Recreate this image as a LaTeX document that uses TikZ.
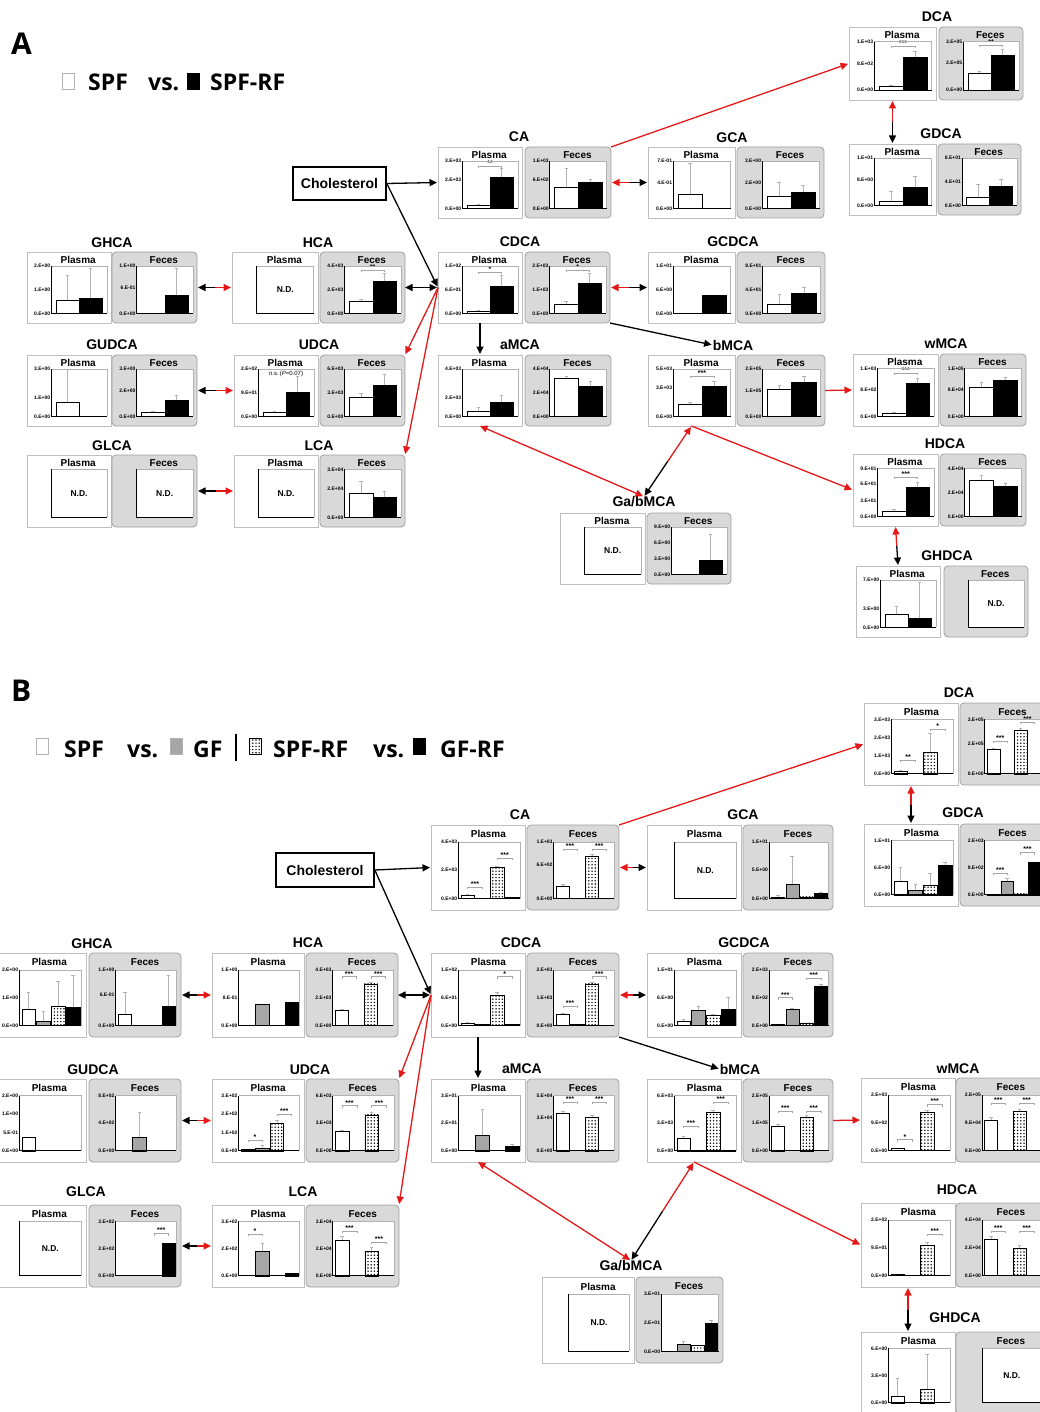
\documentclass[tikz,border=0pt]{standalone}
\usepackage{fontspec}
\setmainfont{Liberation Sans}
\newfontfamily\legfont{Open Sans}
\usetikzlibrary{arrows.meta, positioning, calc, patterns.meta}

\definecolor{arrred}{RGB}{228,24,24}
\definecolor{boxgray}{RGB}{217,217,217}

\tikzset{
  plasbox/.style={draw=gray!50, fill=white, line width=0.8pt, inner sep=0pt, outer sep=0pt},
  fecbox/.style={draw=gray!75, fill=boxgray, line width=0.8pt, rounded corners=4pt, inner sep=0pt, outer sep=0pt},
  pantitle/.style={font=\bfseries\fontsize{10}{10}\selectfont, inner sep=0pt},
  grptitle/.style={font=\bfseries\fontsize{14}{14}\selectfont, inner sep=0pt},
  ticklab/.style={font=\bfseries\fontsize{5}{5}\selectfont, anchor=east, inner sep=1pt},
  sigtxt/.style={font=\bfseries\fontsize{7}{7}\selectfont, anchor=south, inner sep=0.3pt},
  ndtxt/.style={font=\bfseries\fontsize{8.5}{8.5}\selectfont},
  sigline/.style={draw=gray!70, line width=0.5pt},
  errbar/.style={draw=gray!60, line width=0.5pt},
  axisgray/.style={draw=gray!60, line width=0.5pt},
  axisblack/.style={draw=black, line width=1pt},
  wb/.style={draw=black, line width=0.4pt, fill=white},
  gb/.style={draw=black, line width=0.4pt, fill=gray!70},
  db/.style={draw=black, line width=0.4pt, pattern={Dots[distance=3.2pt, radius=0.8pt]}},
  kb/.style={draw=black, line width=0.4pt, fill=black},
  cholbox/.style={draw, line width=1.6pt, font=\bfseries\fontsize{14}{14}\selectfont, minimum width=93, minimum height=33, inner sep=0pt},
  legtxt/.style={font=\legfont\bfseries\fontsize{23}{23}\selectfont, anchor=base west, inner sep=0pt},
  legsq/.style={draw=gray!60, line width=0.6pt, minimum width=12, minimum height=16, inner sep=0pt},
  paneltag/.style={font=\legfont\bfseries\fontsize{30}{30}\selectfont, anchor=base west, inner sep=0pt},
  blkarr/.style={draw=black, line width=1.3pt, ->, shorten >=1pt},
  redarr/.style={draw=arrred, line width=1.3pt, ->, shorten >=1pt},
}

% one bar: left, height, error top, style
\newcommand{\bbar}[4]{%
  \draw[errbar] ({#1+\barw/2},{#2}) -- ({#1+\barw/2},{#3});
  \draw[errbar] ({#1+\barw/2-.03},{#3}) -- ({#1+\barw/2+.03},{#3});
  \draw[#4] ({#1},0) rectangle ({#1+\barw},{#2});}
\newcommand{\yl}[2]{\node[ticklab] at (0,{#1}) {#2};}
\newcommand{\sig}[4]{%
  \draw[sigline] ({#1},{#3-.04}) -- ({#1},{#3}) -- ({#2},{#3}) -- ({#2},{#3-.04});
  \node[sigtxt] at ({(#1+#2)/2},{#3}) {#4};}
\newcommand{\nodata}{\node[ndtxt] at (.5,.5) {N.D.};}

% panel: name, x, y, w, h, box style, title, plot
\newcommand{\bapanel}[8]{%
  \node[#6, minimum width=#4, minimum height=#5, anchor=north west] (#1) at (#2,#3) {};
  \pgfmathsetmacro\plx{#2+0.29*#4}
  \pgfmathsetmacro\ply{#3+0.865*#5}
  \pgfmathsetmacro\plw{0.66*#4}
  \pgfmathsetmacro\plh{0.665*#5}
  \node[pantitle] at ({#2+0.61*#4},{#3+0.11*#5}) {#7};
  \begin{scope}[shift={(\plx,\ply)}, x=\plw pt, y=\plh pt]
    \fill[white] (0,0) rectangle (1,1);
    #8
    \draw[axisgray] (0,1) -- (1,1) -- (1,0);
    \draw[axisblack] (0,1) -- (0,0) -- (1,0);
  \end{scope}}

\newcommand{\mixarr}[2]{%
  \draw[redarr] ($(#1)!.5!(#2)$) -- (#1);
  \draw[blkarr] ($(#1)!.5!(#2)$) -- (#2);}

\begin{document}
\begin{tikzpicture}[x=1pt, y=-1pt, >={Triangle[length=7.5pt,width=7pt]}]
\useasboundingbox (0,0) rectangle (1040,1412);
\clip (0,0) rectangle (1040,1412);

%% ---------------- A ----------------
\def\barw{.42}
\node[paneltag] (A-tag) at (11,55) {A};
\node[legsq, fill=white] (A-k1) at (68,81) {};
\node[legtxt] (A-t1) at (88,91) {SPF};
\node[legtxt] (A-t2) at (148,91) {vs.};
\node[legsq, fill=black, draw=black] (A-k2) at (193.5,81) {};
\node[legtxt] (A-t3) at (210,91) {SPF-RF};

\node[cholbox] (A-chol) at (339.5,183.5) {Cholesterol};

\node[grptitle] (A-DCA-t) at (937,17) {DCA};
\bapanel{A-DCA-p}{849}{27}{87}{73}{plasbox}{Plasma}{\yl{1}{1.E+03}\yl{.55}{8.E+02}\yl{0}{0.E+00}\bbar{.08}{.08}{.1}{wb}\bbar{.5}{.68}{.8}{kb}\sig{.29}{.71}{.9}{***}}
\bapanel{A-DCA-f}{939}{27}{84}{73}{fecbox}{Feces}{\yl{1}{3.E+05}\yl{.57}{2.E+05}\yl{0}{0.E+00}\bbar{.08}{.35}{.38}{wb}\bbar{.5}{.72}{.84}{kb}\sig{.29}{.71}{.92}{**}}

\node[grptitle] (A-GDCA-t) at (941,134) {GDCA};
\bapanel{A-GDCA-p}{849}{144}{87}{71}{plasbox}{Plasma}{\yl{1}{1.E+01}\yl{.54}{8.E+00}\yl{0}{0.E+00}\bbar{.08}{.08}{.3}{wb}\bbar{.5}{.38}{.62}{kb}}
\bapanel{A-GDCA-f}{938}{144}{83}{71}{fecbox}{Feces}{\yl{1}{8.E+01}\yl{.5}{4.E+01}\yl{0}{0.E+00}\bbar{.08}{.18}{.45}{wb}\bbar{.5}{.4}{.55}{kb}}

\node[grptitle] (A-CA-t) at (519,137) {CA};
\bapanel{A-CA-p}{438}{147}{84}{71}{plasbox}{Plasma}{\yl{1}{3.E+03}\yl{.6}{2.E+03}\yl{0}{0.E+00}\bbar{.08}{.06}{.08}{wb}\bbar{.5}{.66}{.85}{kb}\sig{.29}{.71}{.9}{**}}
\bapanel{A-CA-f}{525}{147}{86}{71}{fecbox}{Feces}{\yl{1}{1.E+03}\yl{.6}{6.E+02}\yl{0}{0.E+00}\bbar{.08}{.44}{.86}{wb}\bbar{.5}{.55}{.62}{kb}}

\node[grptitle] (A-GCA-t) at (732,138) {GCA};
\bapanel{A-GCA-p}{648}{147}{87}{71}{plasbox}{Plasma}{\yl{1}{7.E-01}\yl{.55}{4.E-01}\yl{0}{0.E+00}\bbar{.08}{.3}{.95}{wb}}
\bapanel{A-GCA-f}{737}{147}{87}{71}{fecbox}{Feces}{\yl{1}{3.E+00}\yl{.55}{2.E+00}\yl{0}{0.E+00}\bbar{.08}{.25}{.55}{wb}\bbar{.5}{.35}{.5}{kb}}

\node[grptitle] (A-GHCA-t) at (112,243) {GHCA};
\bapanel{A-GHCA-p}{27}{252}{84}{71}{plasbox}{Plasma}{\yl{1}{2.E+00}\yl{.5}{1.E+00}\yl{0}{0.E+00}\bbar{.08}{.28}{.8}{wb}\bbar{.5}{.33}{.95}{kb}}
\bapanel{A-GHCA-f}{112}{252}{85}{71}{fecbox}{Feces}{\yl{1}{1.E+00}\yl{.55}{6.E-01}\yl{0}{0.E+00}\bbar{.5}{.38}{.95}{kb}}

\node[grptitle] (A-HCA-t) at (318,243) {HCA};
\bapanel{A-HCA-p}{232}{252}{86}{71}{plasbox}{Plasma}{\nodata}
\bapanel{A-HCA-f}{320}{252}{85}{71}{fecbox}{Feces}{\yl{1}{4.E+03}\yl{.5}{2.E+03}\yl{0}{0.E+00}\bbar{.08}{.25}{.3}{wb}\bbar{.5}{.68}{.85}{kb}\sig{.29}{.71}{.92}{**}}

\node[grptitle] (A-CDCA-t) at (520,242) {CDCA};
\bapanel{A-CDCA-p}{438}{252}{84}{71}{plasbox}{Plasma}{\yl{1}{1.E+02}\yl{.5}{6.E+01}\yl{0}{0.E+00}\bbar{.08}{.05}{.07}{wb}\bbar{.5}{.57}{.8}{kb}\sig{.29}{.71}{.88}{*}}
\bapanel{A-CDCA-f}{525}{252}{85}{71}{fecbox}{Feces}{\yl{1}{2.E+03}\yl{.5}{1.E+03}\yl{0}{0.E+00}\bbar{.08}{.2}{.25}{wb}\bbar{.5}{.65}{.85}{kb}\sig{.29}{.71}{.92}{*}}

\node[grptitle] (A-GCDCA-t) at (733,242) {GCDCA};
\bapanel{A-GCDCA-p}{648}{252}{87}{71}{plasbox}{Plasma}{\yl{1}{1.E+01}\yl{.5}{6.E+00}\yl{0}{0.E+00}\bbar{.5}{.38}{.38}{kb}}
\bapanel{A-GCDCA-f}{737}{252}{88}{71}{fecbox}{Feces}{\yl{1}{8.E+01}\yl{.5}{4.E+01}\yl{0}{0.E+00}\bbar{.08}{.2}{.4}{wb}\bbar{.5}{.42}{.55}{kb}}

\node[grptitle] (A-GUDCA-t) at (112,345) {GUDCA};
\bapanel{A-GUDCA-p}{27}{355}{84}{71}{plasbox}{Plasma}{\yl{1}{3.E+00}\yl{.4}{1.E+00}\yl{0}{0.E+00}\bbar{.08}{.3}{1}{wb}}
\bapanel{A-GUDCA-f}{112}{355}{85}{71}{fecbox}{Feces}{\yl{1}{3.E+00}\yl{.55}{2.E+00}\yl{0}{0.E+00}\bbar{.08}{.08}{.1}{wb}\bbar{.5}{.35}{.45}{kb}}

\node[grptitle] (A-UDCA-t) at (319,345) {UDCA};
\bapanel{A-UDCA-p}{234}{355}{84}{71}{plasbox}{Plasma}{\yl{1}{2.E+02}\yl{.5}{9.E+01}\yl{0}{0.E+00}\bbar{.08}{.08}{.1}{wb}\bbar{.5}{.52}{.85}{kb}\node[sigtxt, font=\fontsize{6}{6}\selectfont] at (.5,.84) {n.s.\,(\textit{P}=0.07)};}
\bapanel{A-UDCA-f}{320}{355}{85}{71}{fecbox}{Feces}{\yl{1}{6.E+03}\yl{.5}{3.E+03}\yl{0}{0.E+00}\bbar{.08}{.4}{.5}{wb}\bbar{.5}{.67}{.9}{kb}}

\node[grptitle] (A-aMCA-t) at (520,345) {aMCA};
\bapanel{A-aMCA-p}{438}{355}{84}{71}{plasbox}{Plasma}{\yl{1}{4.E+03}\yl{.4}{2.E+03}\yl{0}{0.E+00}\bbar{.08}{.1}{.2}{wb}\bbar{.5}{.3}{.45}{kb}}
\bapanel{A-aMCA-f}{525}{355}{86}{71}{fecbox}{Feces}{\yl{1}{4.E+04}\yl{.5}{2.E+04}\yl{0}{0.E+00}\bbar{.08}{.8}{.85}{wb}\bbar{.5}{.65}{.75}{kb}}

\node[grptitle] (A-bMCA-t) at (733,345) {bMCA};
\bapanel{A-bMCA-p}{648}{355}{87}{71}{plasbox}{Plasma}{\yl{1}{5.E+03}\yl{.6}{3.E+03}\yl{0}{0.E+00}\bbar{.08}{.25}{.3}{wb}\bbar{.5}{.65}{.75}{kb}\sig{.29}{.71}{.85}{***}}
\bapanel{A-bMCA-f}{737}{355}{88}{71}{fecbox}{Feces}{\yl{1}{2.E+05}\yl{.55}{1.E+05}\yl{0}{0.E+00}\bbar{.08}{.58}{.65}{wb}\bbar{.5}{.72}{.85}{kb}}

\node[grptitle] (A-wMCA-t) at (946,344) {wMCA};
\bapanel{A-wMCA-p}{853}{354}{85}{72}{plasbox}{Plasma}{\yl{1}{1.E+03}\yl{.55}{8.E+02}\yl{0}{0.E+00}\bbar{.08}{.06}{.08}{wb}\bbar{.5}{.7}{.8}{kb}\sig{.29}{.71}{.9}{***}}
\bapanel{A-wMCA-f}{940}{354}{86}{72}{fecbox}{Feces}{\yl{1}{1.E+05}\yl{.55}{8.E+04}\yl{0}{0.E+00}\bbar{.08}{.6}{.72}{wb}\bbar{.5}{.75}{.82}{kb}}

\node[grptitle] (A-GLCA-t) at (112,446) {GLCA};
\bapanel{A-GLCA-p}{27}{455}{84}{72}{plasbox}{Plasma}{\nodata}
\bapanel{A-GLCA-f}{112}{455}{85}{72}{fecbox}{Feces}{\nodata}

\node[grptitle] (A-LCA-t) at (319,446) {LCA};
\bapanel{A-LCA-p}{234}{455}{84}{72}{plasbox}{Plasma}{\nodata}
\bapanel{A-LCA-f}{320}{455}{85}{72}{fecbox}{Feces}{\yl{1}{3.E+04}\yl{.6}{2.E+04}\yl{0}{0.E+00}\bbar{.08}{.5}{.75}{wb}\bbar{.5}{.42}{.55}{kb}}

\node[grptitle] (A-HDCA-t) at (945,444) {HDCA};
\bapanel{A-HDCA-p}{853}{454}{85}{72}{plasbox}{Plasma}{\yl{1}{9.E+01}\yl{.67}{6.E+01}\yl{.33}{3.E+01}\yl{0}{0.E+00}\bbar{.08}{.1}{.15}{wb}\bbar{.5}{.6}{.72}{kb}\sig{.29}{.71}{.82}{***}}
\bapanel{A-HDCA-f}{940}{454}{86}{72}{fecbox}{Feces}{\yl{1}{4.E+04}\yl{.5}{2.E+04}\yl{0}{0.E+00}\bbar{.08}{.75}{.85}{wb}\bbar{.5}{.62}{.7}{kb}}

\node[grptitle] (A-GbMCA-t) at (644,502) {Ga/bMCA};
\bapanel{A-GbMCA-p}{560}{513}{85}{71}{plasbox}{Plasma}{\nodata}
\bapanel{A-GbMCA-f}{647}{513}{84}{71}{fecbox}{Feces}{\yl{1}{9.E+00}\yl{.67}{6.E+00}\yl{.33}{3.E+00}\yl{0}{0.E+00}\bbar{.5}{.3}{.85}{kb}}

\node[grptitle] (A-GHDCA-t) at (947,556) {GHDCA};
\bapanel{A-GHDCA-p}{856}{566}{84}{71}{plasbox}{Plasma}{\yl{1}{7.E+00}\yl{.4}{3.E+00}\yl{0}{0.E+00}\bbar{.08}{.28}{.45}{wb}\bbar{.5}{.2}{.95}{kb}}
\bapanel{A-GHDCA-f}{944}{566}{84}{71}{fecbox}{Feces}{\nodata}

% conversions A
\draw[blkarr] (A-chol.east) -- (A-CA-p.west);
\draw[blkarr] (A-chol.east) -- (A-CDCA-p.west);
\draw[redarr] (A-CA-f.north east) -- (A-DCA-p.west);
\mixarr{A-DCA-p.south}{A-GDCA-p.north}
\mixarr{A-CA-f.east}{A-GCA-p.west}
\mixarr{A-HCA-p.west}{A-GHCA-f.east}
\draw[blkarr, <->] (A-HCA-f.east) -- (A-CDCA-p.west);
\mixarr{A-CDCA-f.east}{A-GCDCA-p.west}
\draw[blkarr] (A-CDCA-p.south) -- (A-aMCA-p.north);
\draw[blkarr] (A-CDCA-f.south east) -- (A-bMCA-t.west);
\draw[redarr] (A-CDCA-p.west) -- (A-UDCA-f.north east);
\draw[redarr] (A-CDCA-p.west) -- (A-LCA-f.north east);
\mixarr{A-UDCA-p.west}{A-GUDCA-f.east}
\draw[redarr] (A-bMCA-f.east) -- (A-wMCA-p.west);
\draw[redarr, <->] (A-aMCA-p.south) -- (A-GbMCA-t.north);
\mixarr{A-bMCA-p.south}{A-GbMCA-t.north}
\draw[redarr] (A-bMCA-p.south) -- (A-HDCA-p.west);
\mixarr{A-LCA-p.west}{A-GLCA-f.east}
\mixarr{A-HDCA-p.south}{A-GHDCA-p.north}

%% ---------------- B ----------------
\def\barw{.22}
\node[paneltag] (B-tag) at (11,701) {B};
\node[legsq, fill=white] (B-k1) at (42,746) {};
\node[legtxt] (B-t1) at (64,757) {SPF};
\node[legtxt] (B-t2) at (127,757) {vs.};
\node[legsq, fill=gray!70] (B-k2) at (176,746) {};
\node[legtxt] (B-t3) at (193,757) {GF};
\coordinate (B-bar1) at (236,734);
\coordinate (B-bar2) at (236,761);
\draw[line width=2.6pt] (B-bar1) -- (B-bar2);
\node[legsq, db] (B-k3) at (255,746) {};
\node[legtxt] (B-t4) at (273,757) {SPF-RF};
\node[legtxt] (B-t5) at (373,757) {vs.};
\node[legsq, fill=black, draw=black] (B-k4) at (419,746) {};
\node[legtxt] (B-t6) at (440,757) {GF-RF};

\node[cholbox, minimum width=98, minimum height=34] (B-chol) at (325,870) {Cholesterol};

\node[grptitle] (B-DCA-t) at (959,693) {DCA};
\bapanel{B-DCA-p}{864}{703}{94}{82}{plasbox}{Plasma}{\yl{1}{3.E+03}\yl{.67}{2.E+03}\yl{.33}{1.E+03}\yl{0}{0.E+00}\bbar{.04}{.05}{.07}{wb}\bbar{.52}{.4}{.75}{db}\sig{.15}{.39}{.25}{**}\sig{.63}{.87}{.82}{*}}
\bapanel{B-DCA-f}{960}{703}{86}{82}{fecbox}{Feces}{\yl{1}{3.E+05}\yl{.55}{2.E+05}\yl{0}{0.E+00}\bbar{.04}{.45}{.48}{wb}\bbar{.52}{.8}{.83}{db}\sig{.15}{.39}{.6}{***}\sig{.63}{.87}{.95}{***}}

\node[grptitle] (B-GDCA-t) at (963,813) {GDCA};
\bapanel{B-GDCA-p}{864}{824}{94}{82}{plasbox}{Plasma}{\yl{1}{1.E+01}\yl{.5}{6.E+00}\yl{0}{0.E+00}\bbar{.04}{.25}{.5}{wb}\bbar{.28}{.08}{.2}{gb}\bbar{.52}{.18}{.4}{db}\bbar{.76}{.55}{.6}{kb}}
\bapanel{B-GDCA-f}{960}{824}{86}{82}{fecbox}{Feces}{\yl{1}{2.E+03}\yl{.5}{9.E+02}\yl{0}{0.E+00}\bbar{.04}{.02}{.02}{wb}\bbar{.28}{.25}{.3}{gb}\bbar{.52}{.02}{.02}{db}\bbar{.76}{.6}{.6}{kb}\sig{.15}{.39}{.4}{***}\sig{.63}{.87}{.78}{***}}

\node[grptitle] (B-CA-t) at (520,815) {CA};
\bapanel{B-CA-p}{431}{825}{94}{85}{plasbox}{Plasma}{\yl{1}{4.E+03}\yl{.5}{2.E+03}\yl{0}{0.E+00}\bbar{.04}{.06}{.07}{wb}\bbar{.52}{.55}{.58}{db}\bbar{.76}{.02}{.02}{kb}\sig{.15}{.39}{.2}{***}\sig{.63}{.87}{.72}{***}}
\bapanel{B-CA-f}{527}{825}{92}{85}{fecbox}{Feces}{\yl{1}{1.E+03}\yl{.6}{6.E+02}\yl{0}{0.E+00}\bbar{.04}{.22}{.25}{wb}\bbar{.52}{.75}{.78}{db}\sig{.15}{.39}{.88}{***}\sig{.63}{.87}{.88}{***}}

\node[grptitle] (B-GCA-t) at (743,815) {GCA};
\bapanel{B-GCA-p}{647}{825}{94}{85}{plasbox}{Plasma}{\nodata}
\bapanel{B-GCA-f}{743}{825}{90}{85}{fecbox}{Feces}{\yl{1}{1.E+01}\yl{.5}{5.E+00}\yl{0}{0.E+00}\bbar{.04}{.03}{.05}{wb}\bbar{.28}{.25}{.75}{gb}\bbar{.52}{.03}{.03}{db}\bbar{.76}{.1}{.12}{kb}}

\node[grptitle] (B-GHCA-t) at (92,944) {GHCA};
\bapanel{B-GHCA-p}{-8}{953}{94}{84}{plasbox}{Plasma}{\yl{1}{2.E+00}\yl{.5}{1.E+00}\yl{0}{0.E+00}\bbar{.04}{.3}{.6}{wb}\bbar{.28}{.08}{.25}{gb}\bbar{.52}{.35}{.8}{db}\bbar{.76}{.33}{.9}{kb}}
\bapanel{B-GHCA-f}{89}{953}{92}{84}{fecbox}{Feces}{\yl{1}{1.E+00}\yl{.55}{6.E-01}\yl{0}{0.E+00}\bbar{.04}{.2}{.6}{wb}\bbar{.76}{.35}{.9}{kb}}

\node[grptitle] (B-HCA-t) at (308,943) {HCA};
\bapanel{B-HCA-p}{212}{953}{92}{84}{plasbox}{Plasma}{\yl{1}{1.E+00}\yl{.5}{8.E-01}\yl{0}{0.E+00}\bbar{.28}{.38}{.38}{gb}\bbar{.76}{.42}{.42}{kb}}
\bapanel{B-HCA-f}{306}{953}{92}{84}{fecbox}{Feces}{\yl{1}{4.E+03}\yl{.5}{2.E+03}\yl{0}{0.E+00}\bbar{.04}{.28}{.3}{wb}\bbar{.52}{.75}{.78}{db}\sig{.15}{.39}{.88}{***}\sig{.63}{.87}{.88}{***}}

\node[grptitle] (B-CDCA-t) at (521,943) {CDCA};
\bapanel{B-CDCA-p}{431}{953}{94}{84}{plasbox}{Plasma}{\yl{1}{1.E+02}\yl{.5}{6.E+01}\yl{0}{0.E+00}\bbar{.04}{.05}{.06}{wb}\bbar{.28}{.02}{.02}{gb}\bbar{.52}{.55}{.6}{db}\bbar{.76}{.02}{.02}{kb}\sig{.63}{.87}{.88}{*}}
\bapanel{B-CDCA-f}{527}{953}{92}{84}{fecbox}{Feces}{\yl{1}{2.E+03}\yl{.5}{1.E+03}\yl{0}{0.E+00}\bbar{.04}{.2}{.22}{wb}\bbar{.28}{.02}{.02}{gb}\bbar{.52}{.75}{.78}{db}\sig{.15}{.39}{.35}{***}\sig{.63}{.87}{.88}{***}}

\node[grptitle] (B-GCDCA-t) at (744,943) {GCDCA};
\bapanel{B-GCDCA-p}{647}{953}{94}{84}{plasbox}{Plasma}{\yl{1}{1.E+01}\yl{.5}{6.E+00}\yl{0}{0.E+00}\bbar{.04}{.08}{.12}{wb}\bbar{.28}{.28}{.35}{gb}\bbar{.52}{.18}{.2}{db}\bbar{.76}{.3}{.5}{kb}}
\bapanel{B-GCDCA-f}{743}{953}{90}{84}{fecbox}{Feces}{\yl{1}{2.E+03}\yl{.5}{9.E+02}\yl{0}{0.E+00}\bbar{.04}{.02}{.02}{wb}\bbar{.28}{.3}{.32}{gb}\bbar{.52}{.05}{.05}{db}\bbar{.76}{.7}{.75}{kb}\sig{.15}{.39}{.5}{***}\sig{.63}{.87}{.85}{***}}

\node[grptitle] (B-GUDCA-t) at (93,1070) {GUDCA};
\bapanel{B-GUDCA-p}{-8}{1079}{94}{83}{plasbox}{Plasma}{\yl{1}{2.E+00}\yl{.67}{1.E+00}\yl{.33}{5.E-01}\yl{0}{0.E+00}\bbar{.04}{.25}{.25}{wb}}
\bapanel{B-GUDCA-f}{89}{1079}{92}{83}{fecbox}{Feces}{\yl{1}{8.E+02}\yl{.5}{4.E+02}\yl{0}{0.E+00}\bbar{.28}{.25}{.7}{gb}}

\node[grptitle] (B-UDCA-t) at (310,1070) {UDCA};
\bapanel{B-UDCA-p}{212}{1079}{92}{83}{plasbox}{Plasma}{\yl{1}{3.E+02}\yl{.67}{2.E+02}\yl{.33}{1.E+02}\yl{0}{0.E+00}\bbar{.04}{.03}{.03}{wb}\bbar{.28}{.05}{.1}{gb}\bbar{.52}{.5}{.55}{db}\sig{.15}{.39}{.2}{*}\sig{.63}{.87}{.67}{***}}
\bapanel{B-UDCA-f}{306}{1079}{93}{83}{fecbox}{Feces}{\yl{1}{6.E+03}\yl{.5}{3.E+03}\yl{0}{0.E+00}\bbar{.04}{.35}{.38}{wb}\bbar{.52}{.65}{.7}{db}\sig{.15}{.39}{.82}{***}\sig{.63}{.87}{.82}{***}}

\node[grptitle] (B-aMCA-t) at (522,1069) {aMCA};
\bapanel{B-aMCA-p}{431}{1079}{94}{83}{plasbox}{Plasma}{\yl{1}{3.E+01}\yl{.5}{2.E+01}\yl{0}{0.E+00}\bbar{.28}{.28}{.75}{gb}\bbar{.76}{.08}{.12}{kb}}
\bapanel{B-aMCA-f}{527}{1079}{92}{83}{fecbox}{Feces}{\yl{1}{5.E+04}\yl{.6}{3.E+04}\yl{0}{0.E+00}\bbar{.04}{.68}{.72}{wb}\bbar{.52}{.6}{.65}{db}\sig{.15}{.39}{.88}{***}\sig{.63}{.87}{.88}{***}}

\node[grptitle] (B-bMCA-t) at (740,1069) {bMCA};
\bapanel{B-bMCA-p}{647}{1079}{94}{83}{plasbox}{Plasma}{\yl{1}{6.E+03}\yl{.5}{3.E+03}\yl{0}{0.E+00}\bbar{.04}{.22}{.26}{wb}\bbar{.28}{.01}{.01}{gb}\bbar{.52}{.7}{.73}{db}\bbar{.76}{.01}{.01}{kb}\sig{.15}{.39}{.45}{***}\sig{.63}{.87}{.88}{***}}
\bapanel{B-bMCA-f}{743}{1079}{90}{83}{fecbox}{Feces}{\yl{1}{2.E+05}\yl{.5}{1.E+05}\yl{0}{0.E+00}\bbar{.04}{.45}{.48}{wb}\bbar{.52}{.6}{.65}{db}\sig{.15}{.39}{.72}{***}\sig{.63}{.87}{.72}{***}}

\node[grptitle] (B-wMCA-t) at (958,1069) {wMCA};
\bapanel{B-wMCA-p}{861}{1078}{94}{84}{plasbox}{Plasma}{\yl{1}{2.E+03}\yl{.5}{9.E+02}\yl{0}{0.E+00}\bbar{.04}{.04}{.05}{wb}\bbar{.28}{.01}{.01}{gb}\bbar{.52}{.68}{.72}{db}\sig{.15}{.39}{.2}{*}\sig{.63}{.87}{.83}{***}}
\bapanel{B-wMCA-f}{956}{1078}{90}{84}{fecbox}{Feces}{\yl{1}{2.E+05}\yl{.5}{9.E+04}\yl{0}{0.E+00}\bbar{.04}{.55}{.6}{wb}\bbar{.52}{.7}{.75}{db}\sig{.15}{.39}{.85}{***}\sig{.63}{.87}{.85}{***}}

\node[grptitle] (B-GLCA-t) at (86,1192) {GLCA};
\bapanel{B-GLCA-p}{-8}{1205}{94}{82}{plasbox}{Plasma}{\nodata}
\bapanel{B-GLCA-f}{89}{1205}{92}{82}{fecbox}{Feces}{\yl{1}{3.E+02}\yl{.5}{2.E+02}\yl{0}{0.E+00}\bbar{.76}{.6}{.6}{kb}\sig{.63}{.87}{.78}{***}}

\node[grptitle] (B-LCA-t) at (303,1192) {LCA};
\bapanel{B-LCA-p}{212}{1205}{92}{82}{plasbox}{Plasma}{\yl{1}{3.E+02}\yl{.5}{2.E+02}\yl{0}{0.E+00}\bbar{.28}{.45}{.6}{gb}\bbar{.76}{.05}{.05}{kb}\sig{.15}{.39}{.77}{*}}
\bapanel{B-LCA-f}{306}{1205}{93}{82}{fecbox}{Feces}{\yl{1}{3.E+04}\yl{.5}{2.E+04}\yl{0}{0.E+00}\bbar{.04}{.65}{.72}{wb}\bbar{.52}{.45}{.52}{db}\sig{.15}{.39}{.82}{***}\sig{.63}{.87}{.62}{***}}

\node[grptitle] (B-HDCA-t) at (957,1190) {HDCA};
\bapanel{B-HDCA-p}{861}{1203}{94}{84}{plasbox}{Plasma}{\yl{1}{2.E+02}\yl{.5}{9.E+01}\yl{0}{0.E+00}\bbar{.04}{.02}{.02}{wb}\bbar{.52}{.55}{.6}{db}\sig{.63}{.87}{.75}{***}}
\bapanel{B-HDCA-f}{956}{1203}{90}{84}{fecbox}{Feces}{\yl{1}{4.E+04}\yl{.5}{2.E+04}\yl{0}{0.E+00}\bbar{.04}{.65}{.7}{wb}\bbar{.52}{.5}{.55}{db}\sig{.15}{.39}{.8}{***}\sig{.63}{.87}{.8}{***}}

\node[grptitle] (B-GbMCA-t) at (631,1266) {Ga/bMCA};
\bapanel{B-GbMCA-p}{542}{1277}{92}{86}{plasbox}{Plasma}{\nodata}
\bapanel{B-GbMCA-f}{636}{1277}{87}{86}{fecbox}{Feces}{\yl{1}{3.E+01}\yl{.5}{2.E+01}\yl{0}{0.E+00}\bbar{.28}{.12}{.18}{gb}\bbar{.52}{.1}{.1}{db}\bbar{.76}{.5}{.55}{kb}}

\node[grptitle] (B-GHDCA-t) at (955,1318) {GHDCA};
\bapanel{B-GHDCA-p}{861}{1332}{94}{82}{plasbox}{Plasma}{\yl{1}{6.E+00}\yl{.5}{3.E+00}\yl{0}{0.E+00}\bbar{.04}{.12}{.45}{wb}\bbar{.52}{.25}{.9}{db}}
\bapanel{B-GHDCA-f}{956}{1332}{90}{82}{fecbox}{Feces}{\nodata}

% conversions B
\draw[blkarr] (B-chol.east) -- (B-CA-p.west);
\draw[blkarr] (B-chol.east) -- (B-CDCA-p.west);
\draw[redarr] (B-CA-f.north east) -- (B-DCA-p.west);
\mixarr{B-DCA-p.south}{B-GDCA-p.north}
\mixarr{B-CA-f.east}{B-GCA-p.west}
\mixarr{B-HCA-p.west}{B-GHCA-f.east}
\draw[blkarr, <->] (B-HCA-f.east) -- (B-CDCA-p.west);
\mixarr{B-CDCA-f.east}{B-GCDCA-p.west}
\draw[blkarr] (B-CDCA-p.south) -- (B-aMCA-p.north);
\draw[blkarr] (B-CDCA-f.south east) -- (B-bMCA-t.west);
\draw[redarr] (B-CDCA-p.west) -- (B-UDCA-f.north east);
\draw[redarr] (B-CDCA-p.west) -- (B-LCA-f.north east);
\mixarr{B-UDCA-p.west}{B-GUDCA-f.east}
\draw[redarr] (B-bMCA-f.east) -- (B-wMCA-p.west);
\draw[redarr, <->] (B-aMCA-p.south) -- (B-GbMCA-t.north);
\mixarr{B-bMCA-p.south}{B-GbMCA-t.north}
\draw[redarr] (B-bMCA-p.south) -- (B-HDCA-p.west);
\mixarr{B-LCA-p.west}{B-GLCA-f.east}
\mixarr{B-HDCA-p.south}{B-GHDCA-p.north}
\end{tikzpicture}
\end{document}
